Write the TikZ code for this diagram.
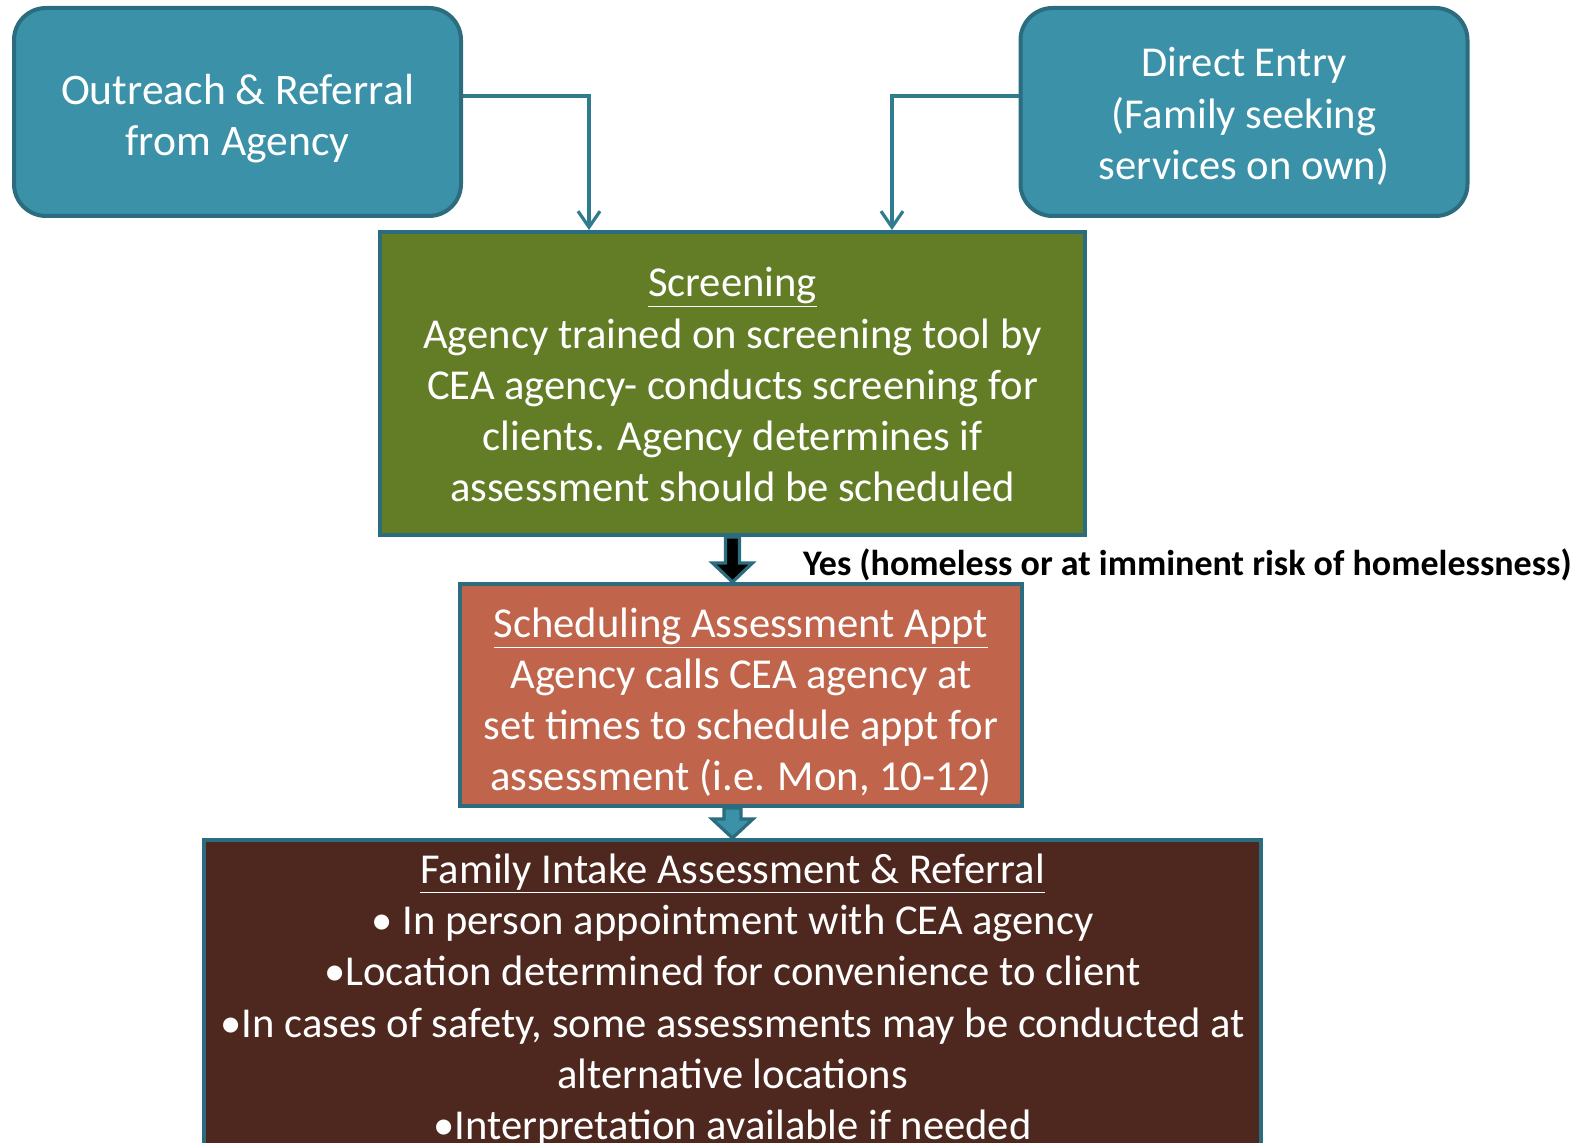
\documentclass[tikz,border=0pt]{standalone}
\usepackage{fontspec}
\setmainfont{Carlito}
\usepackage{xcolor}
\usepackage{tikz}
\usetikzlibrary{arrows.meta, positioning, calc}

\definecolor{tealfill}{HTML}{3A91A8}
\definecolor{tealline}{HTML}{2B6C7E}
\definecolor{screengreen}{HTML}{637D26}
\definecolor{schedorange}{HTML}{C0654B}
\definecolor{intakebrown}{HTML}{4E271E}

\begin{document}
\begin{tikzpicture}[
      x=0.5pt, y=-0.5pt,
      box/.style={
          draw=tealline,
          line width=2pt,
          inner sep=0pt,
          align=center,
          text=white,
          font=\fontsize{21.3}{25.65}\selectfont
      },
      entry/.style={box, fill=tealfill, rounded corners=16pt,
          minimum width=223.5pt, minimum height=104pt},
      link/.style={-{Straight Barb[length=8pt, width=11pt]}, tealline!60!tealfill, line width=1.6pt},
      bigarrow/.style={draw=tealline, line width=1.6pt, line join=miter},
      label/.style={font=\fontsize{18}{21}\selectfont\bfseries, anchor=west}
  ]
  \useasboundingbox (0,0) rectangle (1586,1143);

  % ══════════════════════════════
  % ENTRÉES (haut)
  % ══════════════════════════════
  \node[entry, font=\fontsize{21.8}{25.65}\selectfont] (outreach) at (237.5,112)
      {\rule{0pt}{22pt}Outreach \& Referral\\from Agency};

  \node[entry] (direct) at (1244,112)
      {\rule{0pt}{19pt}Direct Entry\\(Family seeking\\services on own)};

  % ══════════════════════════════
  % ÉTAPES
  % ══════════════════════════════
  \node[box, fill=screengreen, minimum width=352.5pt, minimum height=151.5pt] (screen) at (732.5,383.5)
      {\rule{0pt}{16pt}\underline{Screening}\\
       Agency trained on screening tool by\\
       CEA agency- conducts screening for\\
       clients. Agency determines if\\
       assessment should be scheduled};

  \node[box, fill=schedorange, minimum width=281pt, minimum height=111pt] (sched) at (741,695)
      {\rule{0pt}{22pt}\underline{Scheduling Assessment Appt}\\
       Agency calls CEA agency at\\
       set times to schedule appt for\\
       assessment (i.e. Mon, 10-12)};

  \node[box, fill=intakebrown, minimum width=528.5pt, minimum height=160pt] (intake) at (732.5,1000)
      {\underline{Family Intake Assessment \& Referral}\\
       • In person appointment with CEA agency\\
       •Location determined for convenience to client\\
       •In cases of safety, some assessments may be conducted at\\
       alternative locations\\
       •Interpretation available if needed};

  % ══════════════════════════════
  % FLÈCHES — entrées
  % ══════════════════════════════
  \draw[link] ([yshift=8pt]outreach.east) -| ([xshift=-71.75pt]screen.north);
  \draw[link] ([yshift=8pt]direct.west) -| ([xshift=79.75pt]screen.north);

  % ══════════════════════════════
  % FLÈCHES — blocs
  % ══════════════════════════════
  \coordinate (tipa) at (sched.north -| screen.south);
  \draw[bigarrow, fill=black]
      ($(screen.south)+(-7,0)$) -- ($(tipa)+(-7,-19)$) -- ($(tipa)+(-20,-19)$)
      -- (tipa) -- ($(tipa)+(20,-19)$) -- ($(tipa)+(7,-19)$) -- ($(screen.south)+(7,0)$) -- cycle;

  \coordinate (tipb) at (intake.north -| screen.south);
  \coordinate (startb) at (sched.south -| screen.south);
  \draw[bigarrow, fill=tealfill]
      ($(startb)+(-8.5,0)$) -- ($(tipb)+(-8.5,-19)$) -- ($(tipb)+(-20.5,-19)$)
      -- (tipb) -- ($(tipb)+(20.5,-19)$) -- ($(tipb)+(8.5,-19)$) -- ($(startb)+(8.5,0)$) -- cycle;

  \node[label] (yes) at (796,565)
      {Yes (homeless or at imminent risk of homelessness)};

\end{tikzpicture}
\end{document}
